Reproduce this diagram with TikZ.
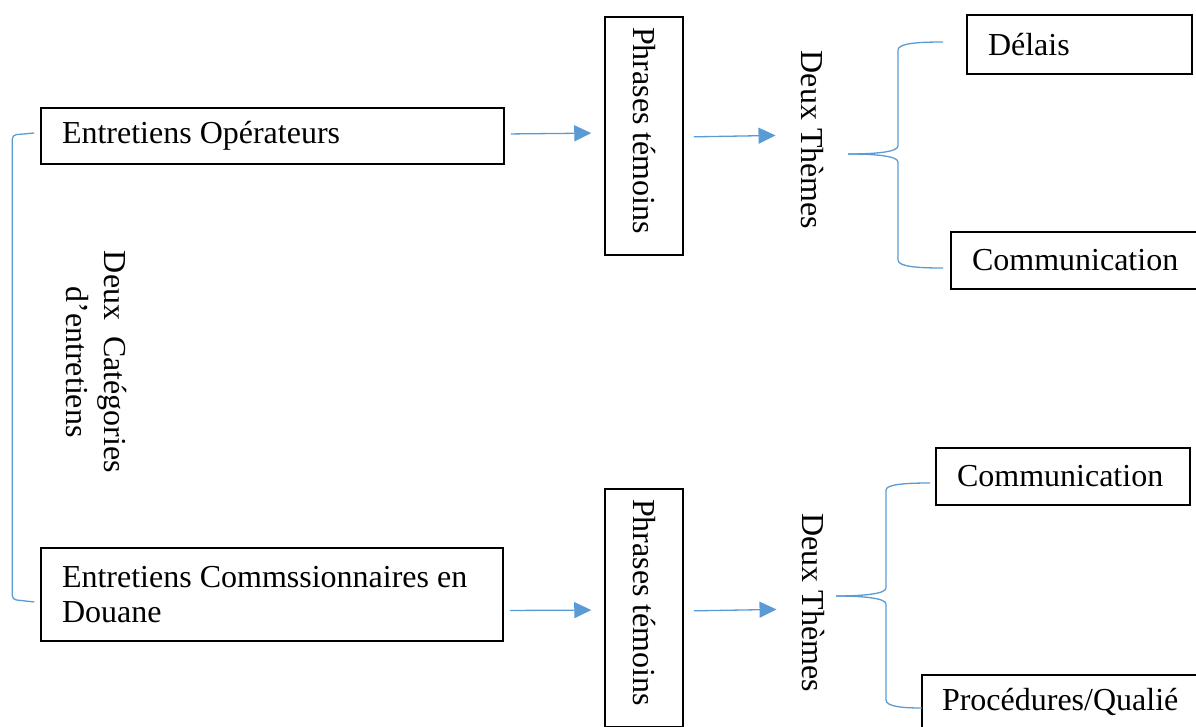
\documentclass[tikz,border=0pt]{standalone}
\usepackage{fontspec}
\setmainfont{Liberation Serif}
\usetikzlibrary{arrows.meta}
\tikzset{
  every node/.style={font=\fontsize{32}{35}\selectfont},
  box/.style={draw=black, line width=1.5pt, inner ysep=0pt, align=flush left},
  vbox/.style={draw=black, line width=1.5pt, inner xsep=0pt, inner ysep=10pt},
  vtext/.style={inner sep=0pt},
  conn/.style={draw={rgb,255:red,91;green,155;blue,213}, line width=1.3pt},
  arr/.style={conn, -{Triangle[length=17pt,width=16pt]}},
}
\begin{document}
\begin{tikzpicture}[x=1pt,y=-1pt]
\useasboundingbox (0,0) rectangle (1196,726);
\clip (0,0) rectangle (1196,726);
% left boxes
\node[box, text width=421pt, inner xsep=21pt, minimum height=56pt] (op) at (272.5,136) {\raisebox{-2pt}{Entretiens Opérateurs}};
\node[box, text width=420pt, inner xsep=21pt, minimum height=93pt] (cd) at (272,594.5) {Entretiens Commssionnaires en\\Douane};
% categories
\node[rotate=-90, align=center, font=\fontsize{32}{38}\selectfont] (cat) at (96,362) {Deux~~Catégories\\d’entretiens};
% phrases temoins
\node[vbox, minimum width=78pt] (ph1) at (644,136) {\rotatebox{-90}{\makebox[218pt][l]{Phrases témoins}}};
\node[vbox, minimum width=78pt] (ph2) at (644,608) {\rotatebox{-90}{\makebox[218pt][l]{Phrases témoins}}};
% deux themes
\node[vtext] (dt1) at (812,140) {\rotatebox{-90}{Deux Thèmes}};
\node[vtext] (dt2) at (813,602.5) {\rotatebox{-90}{Deux Thèmes}};
% right boxes
\node[box, text width=183pt, inner xsep=21pt, minimum height=59pt] (del) at (1079.5,44.5) {Délais};
\node[box, text width=204pt, inner xsep=21pt, minimum height=57pt] (com1) at (1074,260.5) {Communication};
\node[box, text width=212pt, inner xsep=21pt, minimum height=57pt] (com2) at (1063,476.5) {Communication};
\node[box, text width=238pt, inner xsep=20pt, minimum height=54pt] (proc) at (1061,702) {Procédures/Qualié};
% arrows
\draw[arr, shorten <=6pt, shorten >=13pt] ([yshift=2pt]op.east) -- ([yshift=3pt]op.east -| ph1.west);
\draw[arr, shorten <=10pt, shorten >=25pt] ([yshift=-1pt]ph1.east) -- ([yshift=1pt]ph1.east -| dt1.west);
\draw[arr, shorten <=6pt, shorten >=13pt] ([yshift=-16pt]cd.east) -- ([yshift=-2pt]ph2.west);
\draw[arr, shorten <=10pt, shorten >=25pt] ([yshift=-3pt]ph2.east) -- ([yshift=-1pt]ph2.east -| dt2.west);
% left bracket
\draw[conn, rounded corners=4pt] ([xshift=-6pt,yshift=3pt]op.west) -- ++(-22,2) -- ([xshift=-28pt,yshift=-5pt]cd.west) -- ([xshift=-6pt,yshift=-7.5pt]cd.west);
% right braces
\coordinate (b1) at (848,154);
\coordinate (b1t) at (943,42);
\coordinate (b1b) at (943,268);
\draw[conn] (b1) .. controls (875,154) and (898,152) .. (898,146) -- (898,50) .. controls (898,43) and (920,42) .. (b1t);
\draw[conn] (b1) .. controls (875,154) and (898,156) .. (898,162) -- (898,260) .. controls (898,267) and (920,268) .. (b1b);
\coordinate (b2) at (836,596);
\coordinate (b2t) at (930,483);
\coordinate (b2b) at (922,708);
\draw[conn] (b2) .. controls (862,596) and (886,594) .. (886,588) -- (886,490) .. controls (886,484) and (908,483) .. (b2t);
\draw[conn] (b2) .. controls (862,596) and (886,598) .. (886,604) -- (886,700) .. controls (886,707) and (905,708) .. (b2b);
\end{tikzpicture}
\end{document}
